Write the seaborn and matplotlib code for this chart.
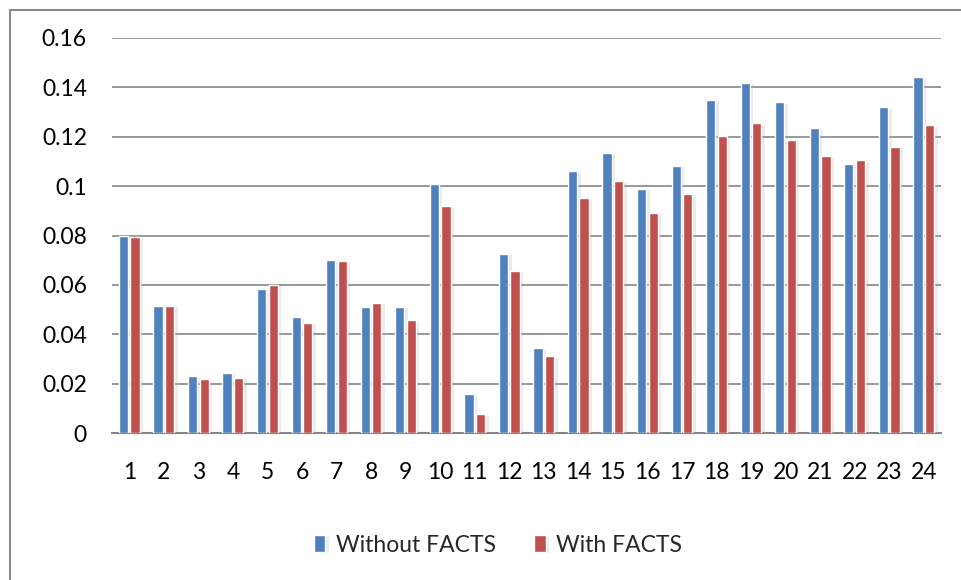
import numpy as np
import pandas as pd
import matplotlib
matplotlib.use("Agg")
import matplotlib.pyplot as plt
import matplotlib.patheffects as pe
from matplotlib.lines import Line2D
import seaborn as sns

# data
cases = [str(i) for i in range(1, 25)]
without_facts = [0.0800, 0.0516, 0.0230, 0.0243, 0.0585, 0.0469, 0.0701, 0.0509,
                 0.0511, 0.1010, 0.0159, 0.0727, 0.0346, 0.1060, 0.1134, 0.0990,
                 0.1082, 0.1349, 0.1419, 0.1339, 0.1236, 0.1091, 0.1320, 0.1441]
with_facts = [0.0795, 0.0514, 0.0219, 0.0223, 0.0600, 0.0447, 0.0696, 0.0527,
              0.0457, 0.0919, 0.0076, 0.0657, 0.0311, 0.0950, 0.1020, 0.0893,
              0.0969, 0.1203, 0.1254, 0.1188, 0.1123, 0.1105, 0.1159, 0.1246]
series = ["Without FACTS", "With FACTS"]
yticks = [0, 0.02, 0.04, 0.06, 0.08, 0.1, 0.12, 0.14, 0.16]
ytick_labels = ["0", "0.02", "0.04", "0.06", "0.08", "0.1", "0.12", "0.14", "0.16"]

df = pd.DataFrame({
    "case": cases * 2,
    "value": without_facts + with_facts,
    "series": [series[0]] * len(cases) + [series[1]] * len(cases),
})

sns.set_style("white")
plt.rcParams["font.family"] = ["Lato", "DejaVu Sans"]

fig = plt.figure(figsize=(9.61, 5.8), dpi=100)
ax = fig.add_axes([112 / 961, 1 - 433 / 580, (941 - 112) / 961, (433 - 38) / 580])

sns.barplot(data=df, x="case", y="value", hue="series", order=cases,
            hue_order=series, palette=["#4F81BD", "#C0504D"],
            width=0.67, gap=0.2, ax=ax, zorder=3, linewidth=1,
            edgecolor="white", saturation=1)

# soft shadow like the spreadsheet bar effect
for bar in ax.patches:
    bar.set_path_effects([pe.SimplePatchShadow(offset=(2.5, -1), shadow_rgbFace="#b0b0b0", alpha=0.25),
                          pe.Normal()])

ax.set_ylim(0, 0.16)
ax.set_yticks(yticks)
ax.set_yticklabels(ytick_labels)
ax.yaxis.grid(True, color="#868686", linewidth=1.2, zorder=0)
ax.set_axisbelow(True)
ax.tick_params(axis="both", length=0, labelsize=16.5, colors="black")
ax.tick_params(axis="y", pad=18)
ax.tick_params(axis="x", pad=21)
ax.set_xlabel("")
ax.set_ylabel("")
for side in ["top", "right", "left"]:
    ax.spines[side].set_visible(False)
ax.spines["bottom"].set_color("#868686")
ax.spines["bottom"].set_linewidth(1.5)

handles, labels = ax.get_legend_handles_labels()
ax.legend_.remove()
fig.legend(handles, labels, loc="center", bbox_to_anchor=(498 / 961, 1 - 545 / 580),
           ncol=2, frameon=False, fontsize=16.5, handlelength=0.5, handleheight=0.7,
           handletextpad=0.45, columnspacing=1.7)

# chart frame (left and top edges visible)
fig.add_artist(Line2D([10 / 961, 10 / 961], [0, 1 - 9.5 / 580], color="#8c8c8c", linewidth=1.5))
fig.add_artist(Line2D([10 / 961, 1], [1 - 9.5 / 580, 1 - 9.5 / 580], color="#8c8c8c", linewidth=1.5))

fig.savefig("out.png", dpi=100)
